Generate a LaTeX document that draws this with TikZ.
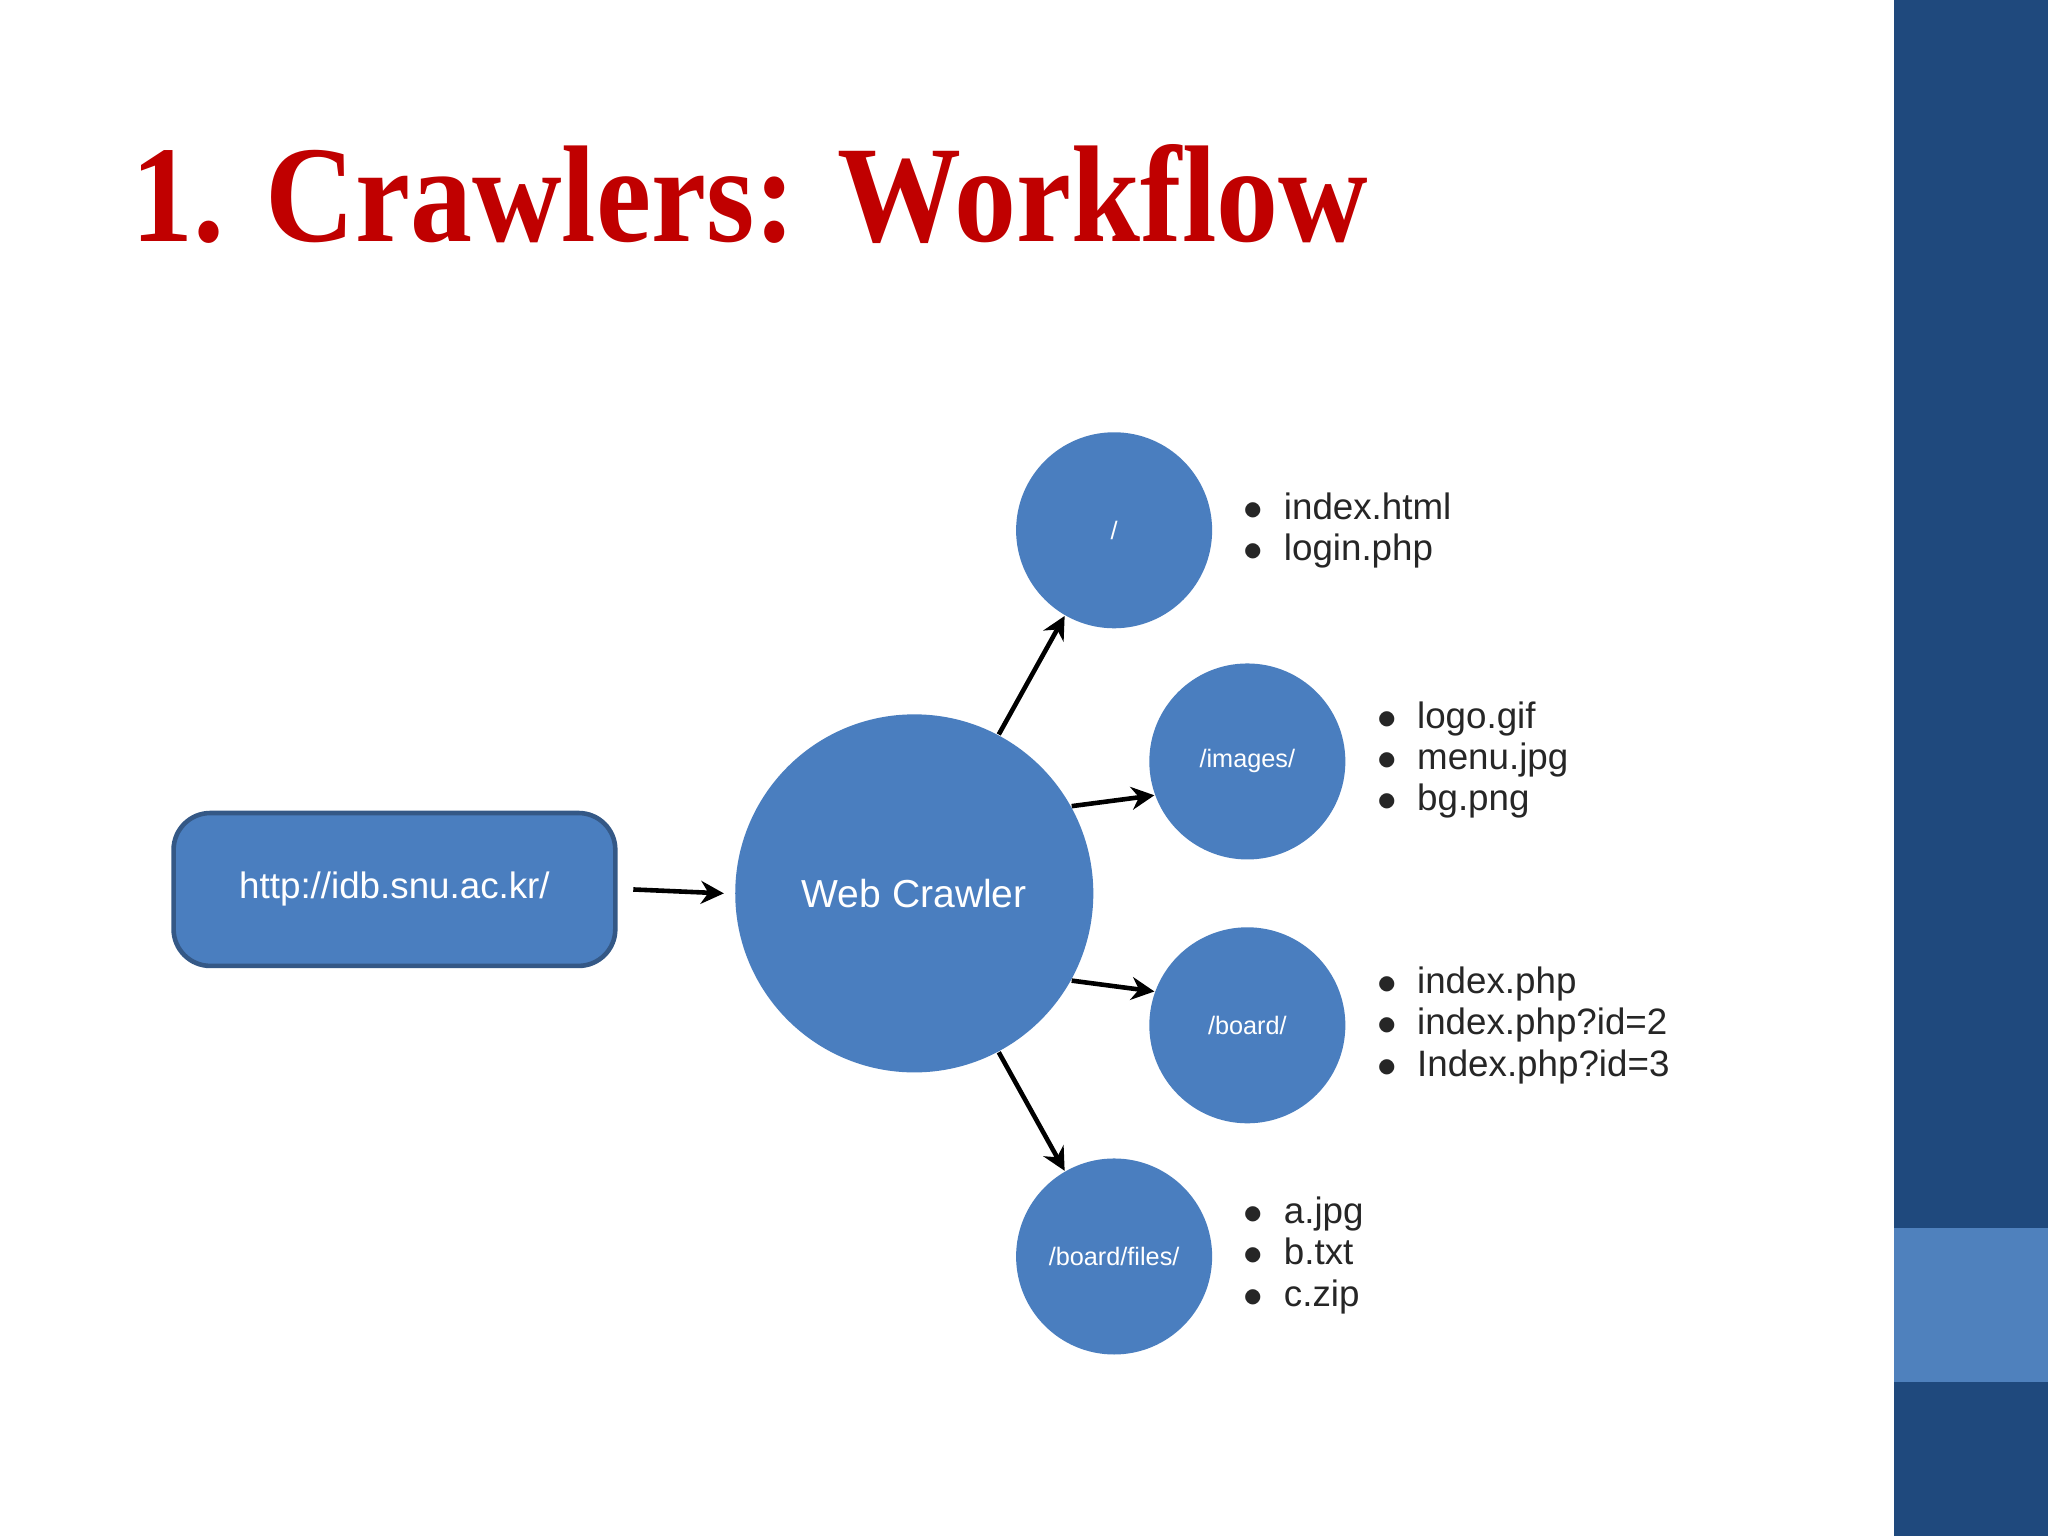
\documentclass[tikz,border=0pt]{standalone}
\usepackage{fontspec}
\usetikzlibrary{arrows.meta}
\setmainfont{Liberation Serif}
\setsansfont{Liberation Sans}
\definecolor{side}{HTML}{1F497D}
\definecolor{sidel}{HTML}{4F81BD}
\definecolor{nodeb}{HTML}{4A7EBF}
\definecolor{tred}{HTML}{C00000}
\begin{document}
\begin{tikzpicture}[x=0.01cm,y=-0.01cm,
  bub/.style={circle,fill=nodeb,text=white,font=\sffamily\fontsize{5.5}{6}\selectfont,inner sep=0pt,minimum size=1.5cm},
  arr/.style={-{Stealth[length=5pt,width=5pt]},line width=1pt},
  lst/.style={anchor=west,font=\sffamily\fontsize{8}{10}\selectfont,align=left,text=black!85}]
\useasboundingbox (0,0) rectangle (1568,1176);
\fill[white] (0,0) rectangle (1568,1176);
\fill[side] (1450,0) rectangle (1568,1176);
\fill[sidel] (1450,940) rectangle (1568,1058);
\node[anchor=base west,inner sep=0,text=tred,font=\bfseries\fontsize{30}{34}\selectfont] (title) at (100,185) {\scalebox{0.9}[1]{1. Crawlers: Workflow}};
\node[draw=nodeb!70!black,line width=1pt,fill=nodeb,rounded corners=8pt,minimum width=3.38cm,minimum height=1.17cm,text=white,font=\sffamily\fontsize{8}{10}\selectfont] (url) at (302,681) {http://idb.snu.ac.kr/};
\node[bub,minimum size=2.74cm,font=\sffamily\fontsize{8.5}{10}\selectfont] (wc) at (700,684) {Web Crawler};
\node[bub] (root) at (853,406) {/};
\node[bub] (img) at (955,583) {/images/};
\node[bub] (brd) at (955,785) {/board/};
\node[bub] (fil) at (853,962) {/board/files/};
\draw[arr] ([xshift=0.12cm]url.east) -- ([xshift=-0.08cm]wc.west);
\draw[arr] (wc.62) -- (root.240);
\draw[arr] (wc.29) -- (img.200);
\draw[arr] (wc.-29) -- (brd.160);
\draw[arr] (wc.-62) -- (fil.120);
\node[lst] (l1) at (940,406) {$\bullet$\ \ index.html\\[-1pt]$\bullet$\ \ login.php};
\node[lst] (l2) at (1042,582) {$\bullet$\ \ logo.gif\\[-1pt]$\bullet$\ \ menu.jpg\\[-1pt]$\bullet$\ \ bg.png};
\node[lst] (l3) at (1042,785) {$\bullet$\ \ index.php\\[-1pt]$\bullet$\ \ index.php?id=2\\[-1pt]$\bullet$\ \ Index.php?id=3};
\node[lst] (l4) at (940,961) {$\bullet$\ \ a.jpg\\[-1pt]$\bullet$\ \ b.txt\\[-1pt]$\bullet$\ \ c.zip};
\end{tikzpicture}
\end{document}
